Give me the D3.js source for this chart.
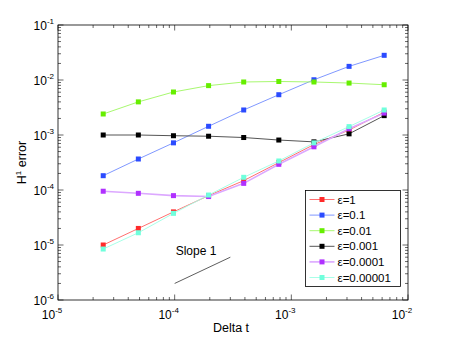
<!DOCTYPE html>
<html>
<head>
<meta charset="utf-8">
<script src="https://cdn.jsdelivr.net/npm/d3@7"></script>
<style>
  body { margin: 0; background: #fff; }
  text { font-family: "Liberation Sans", Arial, sans-serif; fill: #000; }
</style>
</head>
<body>
<div id="chart"></div>
<script>

// time steps (halving each time)
var deltaT = [2.441e-5, 4.883e-5, 9.766e-5, 1.953e-4, 3.906e-4, 7.8125e-4, 1.5625e-3, 3.125e-3, 6.25e-3];

// H1 error for each epsilon
var errEps1     = [1.0e-5, 2.0e-5, 4.0e-5, 7.9e-5, 1.48e-4, 3.15e-4, 6.7e-4, 1.23e-3, 2.6e-3];
var errEps01    = [1.82e-4, 3.66e-4, 7.2e-4, 1.44e-3, 2.85e-3, 5.4e-3, 1.01e-2, 1.77e-2, 2.81e-2];
var errEps001   = [2.41e-3, 4.0e-3, 6.05e-3, 7.9e-3, 9.2e-3, 9.4e-3, 9.2e-3, 8.8e-3, 8.2e-3];
var errEps0001  = [1.0e-3, 1.0e-3, 9.7e-4, 9.5e-4, 9.0e-4, 8.1e-4, 7.5e-4, 1.05e-3, 2.25e-3];
var errEps1e4   = [9.5e-5, 8.7e-5, 7.9e-5, 7.6e-5, 1.32e-4, 2.93e-4, 6.1e-4, 1.3e-3, 2.5e-3];
var errEps1e5   = [8.45e-6, 1.67e-5, 3.76e-5, 8.1e-5, 1.7e-4, 3.37e-4, 7.2e-4, 1.42e-3, 2.85e-3];

var seriesNames = ["\u03b5=1", "\u03b5=0.1", "\u03b5=0.01", "\u03b5=0.001", "\u03b5=0.0001", "\u03b5=0.00001"];
var seriesColors = ["#ff2a2a", "#2b4bff", "#66ee00", "#000000", "#b030ff", "#70ffdc"];
var lineColors = ["#ff7070", "#8098ff", "#a8f870", "#555555", "#dca8ff", "#a8ffe8"];

// reference slope line
var slopeX = [1e-4, 3e-4];
var slopeY = [2e-6, 6e-6];

var series = [errEps1, errEps01, errEps001, errEps0001, errEps1e4, errEps1e5];

var margin = {top: 25, right: 42, bottom: 38, left: 58},
    width = 450 - margin.left - margin.right,
    height = 338 - margin.top - margin.bottom;

var svg = d3.select("#chart")
  .append("svg")
    .attr("width", 450)
    .attr("height", 338)
  .append("g")
    .attr("transform", "translate(" + margin.left + "," + margin.top + ")");

var x = d3.scaleLog().domain([1e-5, 1e-2]).range([0, width]);
var y = d3.scaleLog().domain([1e-6, 1e-1]).range([height, 0]);

function isMajor(v) {
  var l = Math.log10(v);
  return Math.abs(l - Math.round(l)) < 1e-6;
}

// inward ticks on all four sides
var tickG = svg.append("g").attr("stroke", "#000").attr("stroke-width", 0.6);
x.ticks().forEach(function(v) {
  var len = isMajor(v) ? 5.5 : 3;
  var px = x(v);
  tickG.append("line").attr("x1", px).attr("x2", px).attr("y1", height).attr("y2", height - len);
  tickG.append("line").attr("x1", px).attr("x2", px).attr("y1", 0).attr("y2", len);
});
y.ticks().forEach(function(v) {
  var len = isMajor(v) ? 5.5 : 3;
  var py = y(v);
  tickG.append("line").attr("x1", 0).attr("x2", len).attr("y1", py).attr("y2", py);
  tickG.append("line").attr("x1", width).attr("x2", width - len).attr("y1", py).attr("y2", py);
});

svg.append("rect")
  .attr("width", width).attr("height", height)
  .attr("fill", "none").attr("stroke", "#000").attr("stroke-width", 0.8);

// tick labels 10^k
x.ticks().filter(isMajor).forEach(function(v) {
  var t = svg.append("text")
    .attr("x", x(v) - 6).attr("y", height + 19)
    .attr("font-size", 12).attr("text-anchor", "middle");
  t.append("tspan").text("10");
  t.append("tspan").attr("dy", -6).attr("font-size", 8).text(Math.round(Math.log10(v)));
});
y.ticks().filter(isMajor).forEach(function(v) {
  var t = svg.append("text")
    .attr("x", -4).attr("y", y(v) + 5)
    .attr("font-size", 12).attr("text-anchor", "end");
  t.append("tspan").text("10");
  t.append("tspan").attr("dy", -6).attr("font-size", 8).text(Math.round(Math.log10(v)));
});

// axis labels
svg.append("text")
  .attr("x", width / 2 - 2).attr("y", height + 32)
  .attr("font-size", 12.5).attr("text-anchor", "middle")
  .text("Delta t");

var yl = svg.append("text")
  .attr("transform", "translate(-32," + (height / 2) + ") rotate(-90)")
  .attr("font-size", 12.5).attr("text-anchor", "middle");
yl.append("tspan").text("H");
yl.append("tspan").attr("dy", -5).attr("font-size", 8).text("1");
yl.append("tspan").attr("dy", 5).text(" error");

// series
var line = d3.line()
  .x(function(d, i) { return x(deltaT[i]); })
  .y(function(d) { return y(d); });

series.forEach(function(data, k) {
  svg.append("path")
    .datum(data)
    .attr("fill", "none")
    .attr("stroke", lineColors[k])
    .attr("stroke-width", k == 4 ? 1.6 : 1)
    .attr("d", line);
  svg.selectAll(".m" + k)
    .data(data)
    .enter()
    .append("rect")
      .attr("x", function(d, i) { return x(deltaT[i]) - 2.5; })
      .attr("y", function(d) { return y(d) - 2.5; })
      .attr("width", 5)
      .attr("height", 5)
      .attr("fill", seriesColors[k]);
});

// slope 1 reference
svg.append("line")
  .attr("x1", x(slopeX[0])).attr("y1", y(slopeY[0]))
  .attr("x2", x(slopeX[1])).attr("y2", y(slopeY[1]))
  .attr("stroke", "#333").attr("stroke-width", 0.8);
svg.append("text")
  .attr("x", x(slopeX[0]) + 1).attr("y", y(slopeY[1]) - 2)
  .attr("font-size", 12)
  .text("Slope 1");

// legend
var legend = svg.append("g").attr("transform", "translate(" + (305.5 - margin.left) + "," + (190.5 - margin.top) + ")");
legend.append("rect")
  .attr("width", 95).attr("height", 96)
  .attr("fill", "#fff").attr("stroke", "#000").attr("stroke-width", 0.8);
seriesNames.forEach(function(name, k) {
  var ly = 9 + k * 15.6;
  legend.append("line")
    .attr("x1", 4).attr("x2", 29).attr("y1", ly).attr("y2", ly)
    .attr("stroke", lineColors[k]).attr("stroke-width", k == 4 ? 1.6 : 1);
  legend.append("rect")
    .attr("x", 14).attr("y", ly - 2.5).attr("width", 5).attr("height", 5)
    .attr("fill", seriesColors[k]);
  legend.append("text")
    .attr("x", 32).attr("y", ly + 4)
    .attr("font-size", 11.5)
    .text(name);
});

</script>
</body>
</html>
